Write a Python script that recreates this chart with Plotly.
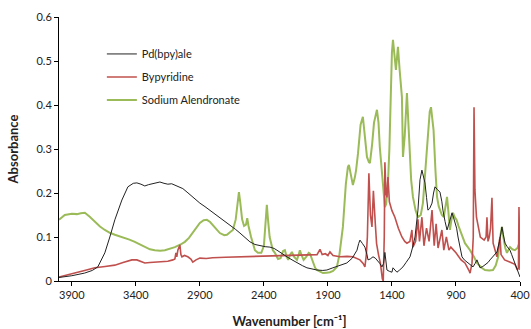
import plotly.graph_objects as go

# Pd(bpy)ale (black)
pd_wn = [4000, 3900, 3800, 3740, 3697, 3642, 3603, 3564, 3509, 3462, 3420, 3392, 3360, 3330, 3300, 3275, 3240, 3212, 3180, 3150,
         3120, 3095, 3060, 3033, 3000, 2962, 2930, 2900, 2860, 2822, 2780, 2744, 2700, 2666, 2620, 2587, 2550, 2509, 2470, 2431,
         2390, 2353, 2320, 2298, 2260, 2220, 2180, 2142, 2100, 2064, 2020, 1986, 1940, 1908, 1861, 1800, 1752, 1710, 1673, 1660,
         1650, 1630, 1611, 1595, 1587, 1570, 1548, 1530, 1517, 1495, 1478, 1465, 1455, 1447, 1439, 1420, 1400, 1392, 1380, 1361,
         1340, 1314, 1290, 1259, 1240, 1220, 1197, 1181, 1166, 1155, 1142, 1130, 1119, 1105, 1087, 1075, 1064, 1045, 1025, 1010,
         1002, 985, 970, 950, 931, 920, 908, 895, 884, 870, 853, 835, 814, 790, 767, 750, 736, 725, 712, 690,
         673, 650, 634, 600, 580, 560, 541, 530, 517, 500, 478, 465, 455, 440, 423, 410, 400]
pd_abs = [0.008, 0.012, 0.018, 0.024, 0.032, 0.064, 0.100, 0.139, 0.184, 0.214, 0.222, 0.223, 0.220, 0.216, 0.219, 0.221, 0.224, 0.225, 0.222, 0.220,
          0.221, 0.218, 0.214, 0.210, 0.202, 0.192, 0.184, 0.177, 0.169, 0.161, 0.152, 0.145, 0.135, 0.127, 0.117, 0.109, 0.099, 0.089, 0.083, 0.080,
          0.078, 0.077, 0.074, 0.070, 0.062, 0.055, 0.048, 0.041, 0.035, 0.030, 0.027, 0.025, 0.024, 0.025, 0.030, 0.036, 0.041, 0.052, 0.070, 0.085,
          0.093, 0.085, 0.077, 0.060, 0.048, 0.050, 0.055, 0.052, 0.048, 0.040, 0.032, 0.040, 0.065, 0.040, 0.025, 0.022, 0.020, 0.030, 0.025, 0.020,
          0.025, 0.032, 0.042, 0.055, 0.075, 0.100, 0.161, 0.230, 0.252, 0.240, 0.223, 0.190, 0.161, 0.165, 0.177, 0.200, 0.214, 0.208, 0.202, 0.180,
          0.161, 0.135, 0.116, 0.135, 0.155, 0.145, 0.134, 0.120, 0.100, 0.075, 0.055, 0.048, 0.043, 0.037, 0.032, 0.040, 0.048, 0.040, 0.030, 0.033,
          0.036, 0.042, 0.048, 0.058, 0.066, 0.090, 0.123, 0.105, 0.086, 0.078, 0.070, 0.060, 0.052, 0.040, 0.025, 0.015, 0.009]

# Bypyridine (red)
bp_wn = [4000, 3950, 3877, 3800, 3720, 3640, 3564, 3500, 3431, 3392, 3360, 3330, 3290, 3252, 3200, 3150, 3111, 3095, 3087, 3080,
         3072, 3056, 3048, 3040, 3020, 2994, 2970, 2955, 2930, 2900, 2850, 2800, 2700, 2600, 2500, 2400, 2300, 2200, 2100, 2000,
         1985, 1962, 1945, 1920, 1900, 1884, 1860, 1806, 1750, 1705, 1680, 1650, 1625, 1611, 1600, 1592, 1580, 1568, 1556, 1545,
         1530, 1520, 1505, 1490, 1475, 1468, 1460, 1455, 1447, 1439, 1431, 1420, 1400, 1377, 1350, 1322, 1300, 1283, 1260, 1244,
         1236, 1215, 1197, 1185, 1166, 1150, 1130, 1110, 1087, 1070, 1055, 1040, 1010, 995, 975, 955, 940, 900, 860, 830,
         800, 790, 775, 765, 759, 752, 740, 710, 680, 665, 658, 650, 640, 630, 619, 610, 580, 560, 556, 548,
         520, 480, 440, 420, 412, 408, 404, 400]
bp_abs = [0.009, 0.012, 0.018, 0.024, 0.030, 0.033, 0.036, 0.042, 0.048, 0.048, 0.045, 0.041, 0.042, 0.043, 0.044, 0.045, 0.048, 0.050, 0.064, 0.055,
          0.070, 0.082, 0.060, 0.055, 0.058, 0.055, 0.050, 0.043, 0.048, 0.052, 0.051, 0.053, 0.054, 0.055, 0.056, 0.057, 0.058, 0.058, 0.059, 0.060,
          0.060, 0.072, 0.060, 0.062, 0.058, 0.066, 0.058, 0.055, 0.056, 0.055, 0.052, 0.048, 0.040, 0.032, 0.060, 0.100, 0.245, 0.150, 0.123, 0.205,
          0.130, 0.085, 0.060, 0.040, 0.005, 0.000, 0.100, 0.270, 0.200, 0.190, 0.236, 0.180, 0.160, 0.145, 0.120, 0.100, 0.090, 0.086, 0.090, 0.116,
          0.077, 0.090, 0.140, 0.090, 0.145, 0.080, 0.120, 0.090, 0.161, 0.080, 0.130, 0.075, 0.116, 0.070, 0.100, 0.070, 0.077, 0.064, 0.048, 0.041,
          0.025, 0.018, 0.040, 0.100, 0.395, 0.207, 0.145, 0.100, 0.093, 0.100, 0.145, 0.090, 0.100, 0.120, 0.189, 0.086, 0.055, 0.090, 0.100, 0.060,
          0.048, 0.043, 0.038, 0.025, 0.030, 0.168, 0.030, 0.025]

# Sodium Alendronate (green)
sa_wn = [4000, 3955, 3900, 3860, 3830, 3798, 3760, 3720, 3680, 3642, 3600, 3564, 3520, 3486, 3450, 3408, 3370, 3330, 3290, 3252,
         3210, 3173, 3130, 3095, 3050, 3017, 2985, 2955, 2925, 2900, 2870, 2845, 2820, 2798, 2770, 2744, 2710, 2689, 2660, 2642,
         2620, 2605, 2595, 2585, 2570, 2555, 2540, 2530, 2520, 2500, 2470, 2447, 2420, 2400, 2385, 2377, 2368, 2355, 2330, 2314,
         2290, 2270, 2250, 2236, 2222, 2210, 2195, 2181, 2165, 2142, 2128, 2119, 2105, 2090, 2070, 2050, 2040, 2020, 2000, 1986,
         1960, 1939, 1910, 1884, 1860, 1830, 1810, 1790, 1783, 1760, 1744, 1736, 1720, 1705, 1690, 1680, 1665, 1645, 1627, 1615,
         1595, 1580, 1572, 1555, 1540, 1517, 1505, 1495, 1480, 1470, 1455, 1445, 1430, 1420, 1410, 1400, 1392, 1380, 1369, 1360,
         1353, 1340, 1330, 1322, 1314, 1300, 1283, 1265, 1250, 1236, 1215, 1197, 1175, 1158, 1140, 1120, 1105, 1095, 1085, 1075,
         1060, 1048, 1035, 1025, 1010, 995, 985, 970, 960, 947, 935, 923, 910, 895, 880, 869, 850, 830, 810, 790,
         760, 736, 700, 673, 640, 611, 590, 570, 555, 541, 530, 515, 502, 490, 478, 460, 440, 420, 408, 400]
sa_abs = [0.139, 0.150, 0.153, 0.152, 0.154, 0.155, 0.146, 0.134, 0.124, 0.116, 0.109, 0.105, 0.101, 0.098, 0.094, 0.089, 0.083, 0.077, 0.072, 0.070,
          0.069, 0.070, 0.073, 0.077, 0.083, 0.089, 0.098, 0.111, 0.124, 0.132, 0.138, 0.139, 0.134, 0.127, 0.117, 0.109, 0.104, 0.105, 0.112, 0.116,
          0.140, 0.180, 0.202, 0.180, 0.140, 0.125, 0.128, 0.143, 0.125, 0.100, 0.070, 0.064, 0.064, 0.080, 0.140, 0.173, 0.140, 0.100, 0.070, 0.064,
          0.050, 0.052, 0.068, 0.070, 0.055, 0.048, 0.060, 0.066, 0.055, 0.048, 0.060, 0.070, 0.058, 0.048, 0.055, 0.064, 0.062, 0.045, 0.030, 0.025,
          0.020, 0.018, 0.019, 0.020, 0.023, 0.032, 0.060, 0.110, 0.123, 0.220, 0.259, 0.264, 0.240, 0.218, 0.235, 0.252, 0.290, 0.355, 0.373, 0.340,
          0.282, 0.270, 0.268, 0.310, 0.360, 0.389, 0.360, 0.305, 0.250, 0.214, 0.168, 0.175, 0.230, 0.300, 0.420, 0.520, 0.548, 0.505, 0.480, 0.510,
          0.532, 0.480, 0.440, 0.418, 0.282, 0.330, 0.427, 0.305, 0.230, 0.191, 0.160, 0.145, 0.150, 0.177, 0.250, 0.340, 0.385, 0.395, 0.370, 0.343,
          0.250, 0.191, 0.170, 0.161, 0.150, 0.145, 0.165, 0.191, 0.160, 0.116, 0.140, 0.155, 0.145, 0.139, 0.125, 0.116, 0.100, 0.086, 0.078, 0.070,
          0.055, 0.041, 0.030, 0.025, 0.024, 0.025, 0.035, 0.055, 0.100, 0.123, 0.100, 0.075, 0.064, 0.072, 0.077, 0.072, 0.070, 0.075, 0.086, 0.090]

x_ticks = [3900, 3400, 2900, 2400, 1900, 1400, 900, 400]
y_ticks = [0, 0.1, 0.2, 0.3, 0.4, 0.5, 0.6]

FONT = "Lato, Open Sans, sans-serif"

fig = go.Figure()
fig.add_trace(go.Scatter(x=sa_wn, y=sa_abs, mode="lines", name="Sodium Alendronate",
                         line=dict(color="#9bbb59", width=2), legendgroup="c", legendrank=3))
fig.add_trace(go.Scatter(x=bp_wn, y=bp_abs, mode="lines", name="Bypyridine",
                         line=dict(color="#c0504d", width=1.6), legendgroup="b", legendrank=2))
fig.add_trace(go.Scatter(x=pd_wn, y=pd_abs, mode="lines", name="Pd(bpy)ale",
                         line=dict(color="#222222", width=1), legendgroup="a", legendrank=1))

fig.update_layout(
    width=531, height=329,
    margin=dict(l=59, r=11, t=17, b=48, autoexpand=False),
    paper_bgcolor="white", plot_bgcolor="white",
    font=dict(family=FONT, size=11, color="#222"),
    showlegend=True,
    legend=dict(x=0.093, y=0.915, xanchor="left", yanchor="top", bgcolor="rgba(0,0,0,0)",
                font=dict(size=11, family=FONT), tracegroupgap=4, traceorder="grouped",
                itemwidth=30),
    xaxis=dict(range=[4000, 400], tickvals=x_ticks, ticktext=[str(v) for v in x_ticks],
               showgrid=False, zeroline=False, showline=True, linecolor="#000", linewidth=1,
               ticks="outside", ticklen=4, tickcolor="#000", automargin=False,
               title=dict(text="<b>Wavenumber [cm⁻¹]</b>", font=dict(size=13, family=FONT), standoff=16),
               tickfont=dict(size=11)),
    yaxis=dict(range=[0, 0.6], tickvals=y_ticks, ticktext=["0", "0.1", "0.2", "0.3", "0.4", "0.5", "0.6"],
               showgrid=False, zeroline=False, showline=True, linecolor="#000", linewidth=1,
               ticks="outside", ticklen=4, tickcolor="#000", automargin=False,
               title=dict(text="<b>Absorbance</b>", font=dict(size=13, family=FONT), standoff=14),
               tickfont=dict(size=11)),
)

fig.write_html("out.html")
